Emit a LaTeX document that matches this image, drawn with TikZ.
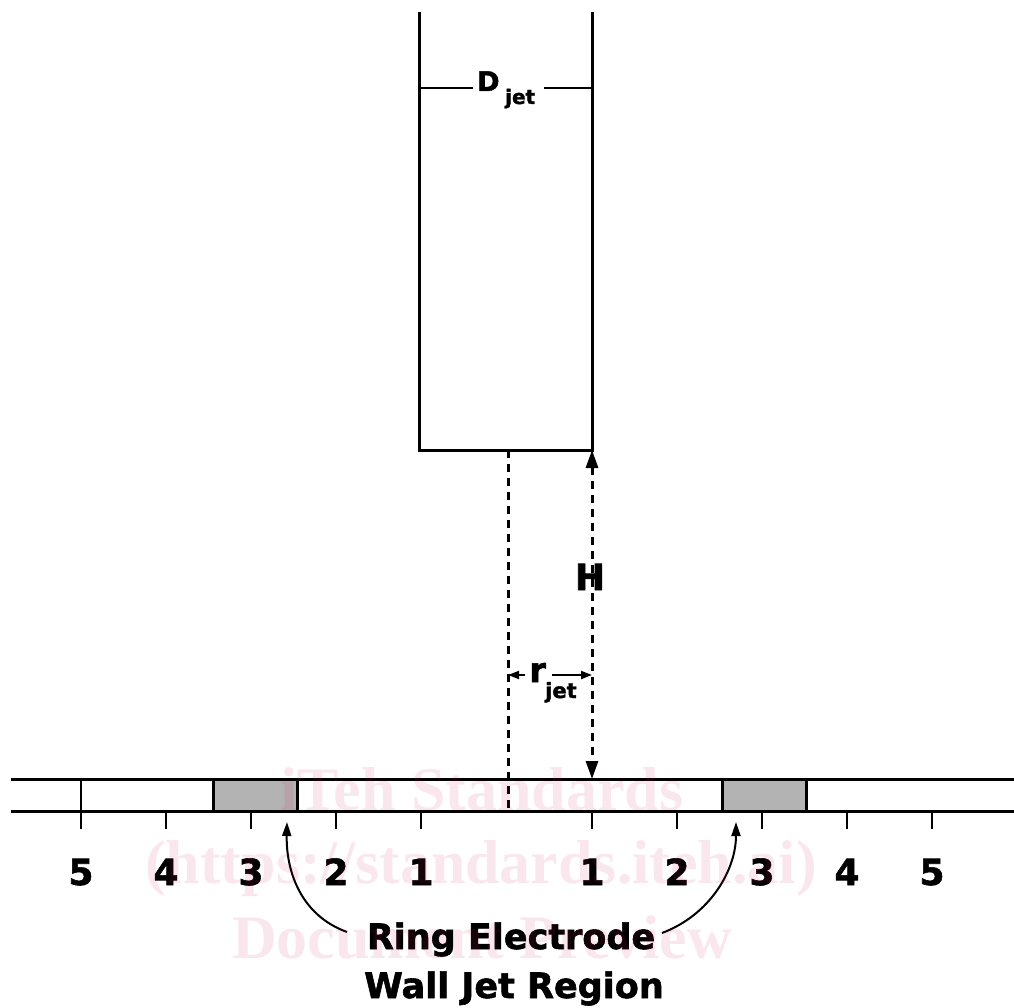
\documentclass[tikz,border=0pt]{standalone}
\usepackage{fontspec}
\setmainfont{DejaVu Sans}[BoldFeatures={FakeBold=1.6}]
\newfontfamily\wmfont{Liberation Serif}
\usetikzlibrary{arrows.meta}
\definecolor{elgray}{RGB}{179,179,179}
\definecolor{wmpink}{RGB}{210,40,90}
\tikzset{
  solidln/.style={line width=3pt, line cap=butt},
  dashln/.style={line width=3pt, dash pattern=on 8pt off 6pt},
  tickln/.style={line width=2.6pt},
  numlbl/.style={font=\bfseries\fontsize{36}{36}\selectfont, anchor=base, inner sep=0pt},
  biglbl/.style={font=\bfseries\fontsize{35}{35}\selectfont, anchor=base, inner sep=0pt},
  sublbl/.style={font=\bfseries\fontsize{20}{20}\selectfont, anchor=base west, inner sep=0pt},
  wmark/.style={font=\wmfont\bfseries\fontsize{62}{62}\selectfont, anchor=base, inner sep=0pt, text=wmpink, text opacity=0.11},
  htip/.style={{Triangle[length=18pt,width=12pt]}-{Triangle[length=18pt,width=12pt]}},
  smalltip/.style={-{Triangle[length=11pt,width=8pt]}, line width=1.8pt},
  curvetip/.style={-{Triangle[length=14pt,width=9pt]}, line width=2pt}
}
\begin{document}
\begin{tikzpicture}[x=1pt,y=-1pt]
\useasboundingbox (0,0) rectangle (1014,1008);
% key points
\coordinate (tubeTL) at (419,12);
\coordinate (tubeBL) at (419,450);
\coordinate (tubeBR) at (592,450);
\coordinate (tubeTR) at (592,12);
\coordinate (axisTop) at (508,450);
\coordinate (axisBot) at (508,813);
\coordinate (wallH) at (592,779);
\coordinate (wTL) at (11,779);
\coordinate (wTR) at (1014,779);
\coordinate (wBL) at (11,811);
\coordinate (wBR) at (1014,811);
\coordinate (dL1) at (419,88);
\coordinate (dL2) at (473,88);
\coordinate (dR1) at (544,88);
\coordinate (dR2) at (592,88);
\coordinate (rL1) at (525,675);
\coordinate (rL2) at (508,675);
\coordinate (rR1) at (552,675);
\coordinate (rR2) at (592,675);
\coordinate (tipL) at (287,822);
\coordinate (tipR) at (736,822);

% ring electrodes
\draw[solidln, fill=elgray] (213,779) rectangle (297,811);
\draw[solidln, fill=elgray] (722,779) rectangle (806,811);

% wall
\draw[solidln] (wTL) -- (wTR);
\draw[solidln] (wBL) -- (wBR);

% tube
\draw[solidln, line join=miter] (tubeTL) -- (tubeBL) -- (tubeBR) -- (tubeTR);

% D_jet dimension
\draw[line width=2.6pt] (dL1) -- (dL2);
\draw[line width=2.6pt] (dR1) -- (dR2);
\node[font=\bfseries\fontsize{27}{27}\selectfont, anchor=base west, inner sep=0pt] (dlbl) at (477,91) {D};
\node[sublbl] (djet) at (505,104) {jet};

% center axis (dashed)
\draw[dashln] (axisTop) -- (axisBot);
% H dimension
\draw[dashln, htip] (tubeBR) -- (wallH);
\node[numlbl] (hlbl) at (590,590) {H};

% r_jet
\draw[smalltip] (rL1) -- (rL2);
\draw[smalltip] (rR1) -- (rR2);
\node[font=\bfseries\fontsize{34}{34}\selectfont, anchor=base west, inner sep=0pt] (rlbl) at (529,682) {r};
\node[font=\bfseries\fontsize{21}{21}\selectfont, anchor=base west, inner sep=0pt] (rjet) at (545,698) {jet};

% ticks
\draw[tickln] (81,779) -- (81,829);
\foreach \x in {166,251,336,421,592,677,762,847,932}
  \draw[tickln] (\x,811) -- (\x,829);

% numbers
\node[numlbl] (nL5) at (81,885) {5};
\node[numlbl] (nL4) at (166,885) {4};
\node[numlbl] (nL3) at (251,885) {3};
\node[numlbl] (nL2) at (336,885) {2};
\node[numlbl] (nL1) at (421,885) {1};
\node[numlbl] (nR1) at (592,885) {1};
\node[numlbl] (nR2) at (677,885) {2};
\node[numlbl] (nR3) at (762,885) {3};
\node[numlbl] (nR4) at (847,885) {4};
\node[numlbl] (nR5) at (932,885) {5};

% labels
\node[biglbl] (ring) at (511,949) {Ring Electrode};
\node[biglbl] (wall) at (514,998) {Wall Jet Region};

% curved arrows
\coordinate (cL) at (347,932);
\coordinate (cR) at (662,933);
\draw[curvetip] (cL) .. controls (300,915) and (286,870) .. (tipL);
\draw[curvetip] (cR) .. controls (710,915) and (736,870) .. (tipR);

% watermark
\node[wmark] (wm1) at (482,810) {iTeh Standards};
\node[wmark] (wm2) at (481,883) {(https://standards.iteh.ai)};
\node[wmark] (wm3) at (482,958) {Document Preview};
\end{tikzpicture}
\end{document}
